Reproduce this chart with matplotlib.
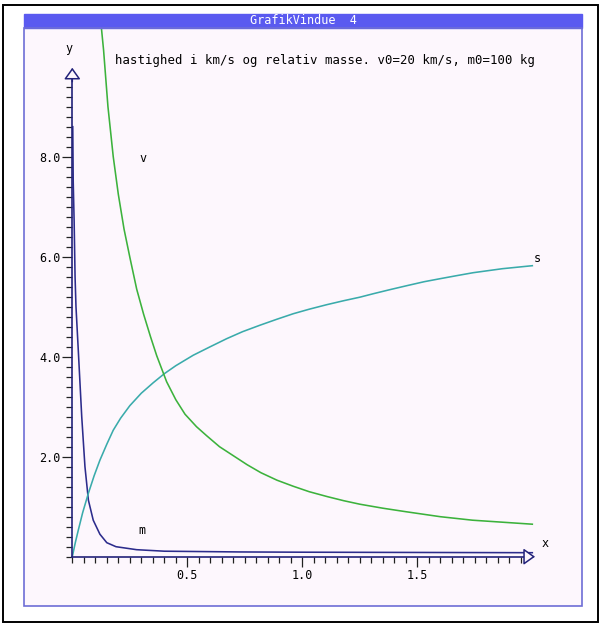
import numpy as np
import matplotlib.pyplot as plt
from matplotlib.patches import Rectangle
from matplotlib.ticker import FixedLocator

plt.rcParams['font.family'] = ['DejaVu Sans Mono']

# kurver
v_x = [0.126, 0.136, 0.155, 0.178, 0.20, 0.225, 0.251, 0.28, 0.31, 0.34, 0.367,
       0.41, 0.45, 0.49, 0.54, 0.584, 0.64, 0.70, 0.76, 0.82, 0.89, 0.96, 1.03,
       1.11, 1.18, 1.25, 1.35, 1.45, 1.60, 1.74, 1.87, 2.0]
v_y = [10.6, 10.13, 9.0, 8.0, 7.25, 6.55, 5.97, 5.35, 4.85, 4.4, 4.02,
       3.5, 3.14, 2.85, 2.6, 2.42, 2.2, 2.02, 1.84, 1.68, 1.53, 1.41, 1.30,
       1.20, 1.12, 1.05, 0.97, 0.90, 0.80, 0.73, 0.69, 0.65]

s_x = [0.0, 0.013, 0.026, 0.045, 0.07, 0.095, 0.12, 0.15, 0.178, 0.21, 0.25, 0.30,
       0.352, 0.40, 0.45, 0.526, 0.60, 0.671, 0.74, 0.816, 0.89, 0.961, 1.03,
       1.106, 1.18, 1.25, 1.309, 1.38, 1.454, 1.53, 1.599, 1.67, 1.743, 1.87, 2.0]
s_y = [0.0, 0.28, 0.53, 0.88, 1.27, 1.62, 1.93, 2.25, 2.53, 2.77, 3.02, 3.27,
       3.48, 3.66, 3.82, 4.03, 4.2, 4.36, 4.5, 4.63, 4.75, 4.86, 4.95,
       5.04, 5.12, 5.19, 5.26, 5.34, 5.42, 5.5, 5.56, 5.62, 5.68, 5.76, 5.82]

m_x = [0.002, 0.004, 0.008, 0.012, 0.016, 0.026, 0.041, 0.055, 0.07, 0.091, 0.12,
       0.15, 0.19, 0.25, 0.28, 0.40, 0.73, 1.0, 1.5, 2.0]
m_y = [8.6, 7.5, 6.7, 5.6, 5.0, 4.13, 2.8, 1.8, 1.13, 0.73, 0.45,
       0.28, 0.2, 0.16, 0.14, 0.11, 0.095, 0.09, 0.085, 0.08]

x_major = [0.5, 1.0, 1.5]
x_labels = ['0.5', '1.0', '1.5']
y_major = [2, 4, 6, 8]
y_labels = ['2.0', '4.0', '6.0', '8.0']

title = 'hastighed i km/s og relativ masse. v0=20 km/s, m0=100 kg'

bg = '#fdf7fd'
navy = '#23237a'
c_v = '#3cb23c'
c_s = '#3aabab'
c_m = '#2c2c8c'

W, H = 602, 625
fig = plt.figure(figsize=(W / 100, H / 100), dpi=100)
fig.patch.set_facecolor('white')

# vindue
ax = fig.add_axes([24 / W, 19 / H, 558 / W, 578 / H])
ax.set_facecolor(bg)
ax.set_xlim(-0.21, 2.216)
ax.set_ylim(-0.986, 10.574)

ax.plot(m_x, m_y, color=c_m, lw=1.15)
ax.plot(s_x, s_y, color=c_s, lw=1.15)
ax.plot(v_x, v_y, color=c_v, lw=1.15)

for side in ['top', 'right']:
    ax.spines[side].set_visible(False)
ax.spines['left'].set_position(('data', 0))
ax.spines['bottom'].set_position(('data', 0))
ax.spines['left'].set_bounds(0, 9.6)
ax.spines['bottom'].set_bounds(0, 1.98)
for side in ['left', 'bottom']:
    ax.spines[side].set_color(navy)
    ax.spines[side].set_linewidth(1.2)

ax.xaxis.set_major_locator(FixedLocator(x_major))
ax.xaxis.set_minor_locator(FixedLocator(np.arange(0, 2.0, 0.05)))
ax.set_xticklabels(x_labels)
ax.yaxis.set_major_locator(FixedLocator(y_major))
ax.yaxis.set_minor_locator(FixedLocator(np.arange(0, 9.7, 0.2)))
ax.set_yticklabels(y_labels)
ax.tick_params(which='major', length=7, width=0.9, color='#202020',
               labelsize=8.5, pad=1.5)
ax.tick_params(which='minor', length=4, width=0.9, color='#202020')

# pile
arr = dict(arrowstyle='-|>,head_length=0.7,head_width=0.5', fc=bg, ec=navy, lw=1.1,
           shrinkA=0, shrinkB=0)
ax.annotate('', xy=(0, 9.78), xytext=(0, 9.5), arrowprops=arr)
ax.annotate('', xy=(2.012, 0), xytext=(1.97, 0), arrowprops=arr)

ax.text(-0.014, 10.17, 'y', fontsize=8.5, ha='center', va='center')
ax.text(2.055, 0.27, 'x', fontsize=8.5, ha='center', va='center')
ax.text(0.307, 7.97, 'v', fontsize=8.5, ha='center', va='center')
ax.text(2.02, 5.97, 's', fontsize=8.5, ha='center', va='center')
ax.text(0.303, 0.53, 'm', fontsize=8.5, ha='center', va='center')
ax.text(0.186, 9.93, title, fontsize=8.9, ha='left', va='center')

# titellinje og rammer
fig.patches.append(Rectangle((24 / W, (H - 28) / H), 558 / W, 14 / H,
                             transform=fig.transFigure, color='#5a5af0', zorder=5))
fig.text(303 / W, (H - 21) / H, 'GrafikVindue  4', color='white', fontsize=8.5,
         ha='center', va='center', zorder=6)
fig.patches.append(Rectangle((24 / W, 19 / H), 558 / W, (606 - 28) / H,
                             transform=fig.transFigure, fill=False, ec='#6e6ed6',
                             lw=1.2, zorder=5))
fig.patches.append(Rectangle((3 / W, 3 / H), 595 / W, 617 / H,
                             transform=fig.transFigure, fill=False, ec='black',
                             lw=1.4, zorder=5))

fig.savefig('out.png', dpi=100, facecolor=fig.get_facecolor())
